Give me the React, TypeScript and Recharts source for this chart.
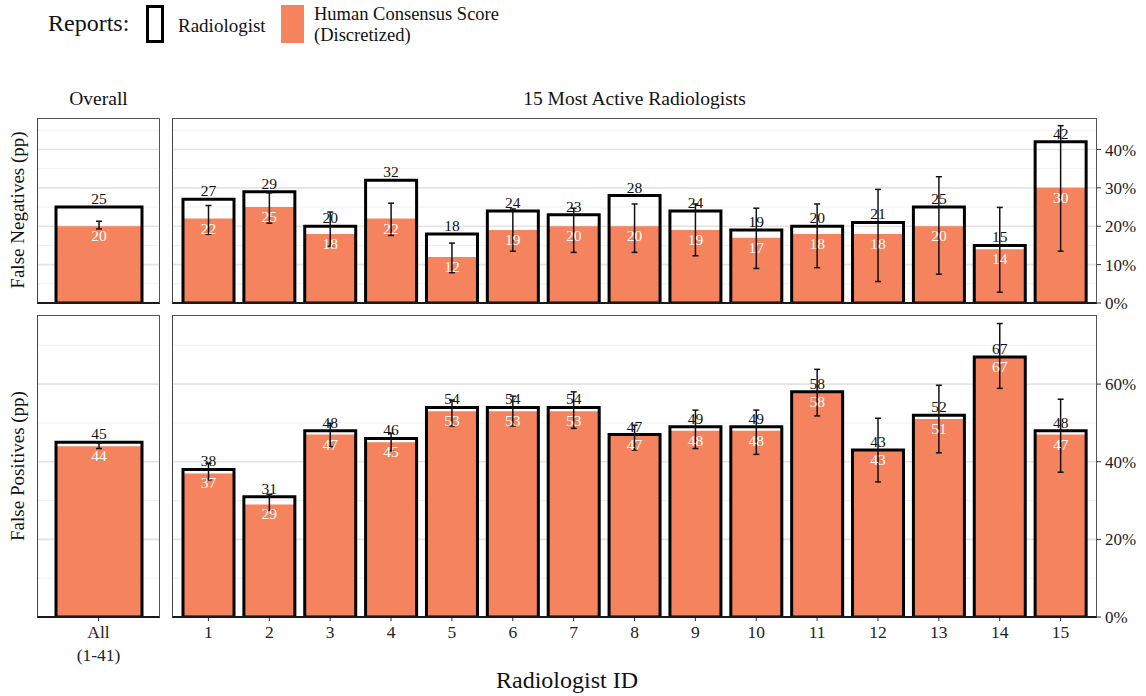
import React from "react";
import { BarChart, Bar, XAxis, YAxis, CartesianGrid, ErrorBar, LabelList } from "recharts";

const ORANGE = "#F4835E";
const FONT = "'Liberation Serif', 'DejaVu Serif', serif";

// categories
const radiologistIds = ["1", "2", "3", "4", "5", "6", "7", "8", "9", "10", "11", "12", "13", "14", "15"];
const overallIds = ["All\n(1-41)"];

// False negatives (pp)
const fnRadiologist = [27, 29, 20, 32, 18, 24, 23, 28, 24, 19, 20, 21, 25, 15, 42];
const fnConsensus = [22, 25, 18, 22, 12, 19, 20, 20, 19, 17, 18, 18, 20, 14, 30];
const fnLow = [17.9, 20.8, 14.8, 17.6, 7.9, 13.5, 13.2, 13.2, 12.3, 9.0, 9.2, 5.6, 7.5, 2.8, 13.5];
const fnHigh = [25.4, 28.7, 23.7, 26.0, 15.6, 24.5, 24.7, 25.8, 25.8, 24.7, 25.8, 29.6, 32.9, 24.9, 46.2];
const fnOverallRadiologist = [25];
const fnOverallConsensus = [20];
const fnOverallLow = [19.3];
const fnOverallHigh = [21.3];

// False positives (pp)
const fpRadiologist = [38, 31, 48, 46, 54, 54, 54, 47, 49, 49, 58, 43, 52, 67, 48];
const fpConsensus = [37, 29, 47, 45, 53, 53, 53, 47, 48, 48, 58, 43, 51, 67, 47];
const fpLow = [35.3, 27.4, 43.9, 42.8, 49.2, 49.2, 48.6, 43.0, 43.4, 41.9, 51.8, 34.8, 42.3, 58.9, 37.3];
const fpHigh = [39.6, 31.6, 49.9, 47.3, 55.9, 56.9, 58.0, 49.4, 53.3, 53.3, 63.8, 51.2, 59.7, 75.6, 56.1];
const fpOverallRadiologist = [45];
const fpOverallConsensus = [44];
const fpOverallLow = [43.4];
const fpOverallHigh = [44.9];

// axis ticks / gridlines
const fnMajorTicks = [0, 10, 20, 30, 40];
const fnMinorTicks = [5, 15, 25, 35, 45];
const fpMajorTicks = [0, 20, 40, 60];
const fpMinorTicks = [10, 30, 50, 70];
const fnDomain: [number, number] = [0, 48.2];
const fpDomain: [number, number] = [0, 77.8];

type Row = { id: string; rad: number; cons: number; err: [number, number] };

function buildRows(ids: string[], rad: number[], cons: number[], low: number[], high: number[]): Row[] {
  return ids.map((id, i) => ({
    id,
    rad: rad[i],
    cons: cons[i],
    err: [cons[i] - low[i], high[i] - cons[i]],
  }));
}

const fnOverallRows = buildRows(overallIds, fnOverallRadiologist, fnOverallConsensus, fnOverallLow, fnOverallHigh);
const fnRows = buildRows(radiologistIds, fnRadiologist, fnConsensus, fnLow, fnHigh);
const fpOverallRows = buildRows(overallIds, fpOverallRadiologist, fpOverallConsensus, fpOverallLow, fpOverallHigh);
const fpRows = buildRows(radiologistIds, fpRadiologist, fpConsensus, fpLow, fpHigh);

function MultiLineTick({ x, y, payload }: any) {
  const lines = String(payload.value).split("\n");
  return (
    <text x={x} y={y} textAnchor="middle" fill="#222" fontSize={17.5} fontFamily={FONT}>
      {lines.map((l, i) => (
        <tspan key={i} x={x} dy={i === 0 ? "0.71em" : "1.3em"}>
          {l}
        </tspan>
      ))}
    </text>
  );
}

interface PanelProps {
  rows: Row[];
  plotWidth: number;
  plotHeight: number;
  domain: [number, number];
  majorTicks: number[];
  minorTicks: number[];
  barSize: number;
  rightAxis: boolean;
  showX: boolean;
  pad: number;
}

function Panel({ rows, plotWidth, plotHeight, domain, majorTicks, minorTicks, barSize, rightAxis, showX, pad }: PanelProps) {
  const axisW = rightAxis ? 50 : 0;
  const xH = showX ? 60 : 0;
  const bottomRoom = showX ? 0 : 10;
  return (
    <BarChart
      width={plotWidth + axisW}
      height={plotHeight + xH + bottomRoom}
      data={rows}
      margin={{ top: 0, right: 0, bottom: bottomRoom, left: 0 }}
    >
      <CartesianGrid vertical={false} stroke="#EEEEEE" strokeWidth={0.9} horizontalValues={minorTicks} />
      <CartesianGrid vertical={false} stroke="#E4E4E4" strokeWidth={1.6} horizontalValues={majorTicks} />
      <XAxis
        dataKey="id"
        padding={{ left: pad, right: pad }}
        hide={!showX}
        height={xH}
        interval={0}
        axisLine={false}
        tickSize={4}
        tickMargin={5}
        tickLine={{ stroke: "#333" }}
        tick={showX ? <MultiLineTick /> : false}
      />
      <XAxis xAxisId="b" dataKey="id" padding={{ left: pad, right: pad }} hide />
      <XAxis xAxisId="c" dataKey="id" padding={{ left: pad, right: pad }} hide />
      <YAxis
        orientation="right"
        domain={domain}
        ticks={majorTicks}
        interval={0}
        allowDataOverflow
        hide={!rightAxis}
        width={axisW}
        axisLine={false}
        tickSize={4}
        tickMargin={4}
        tickLine={{ stroke: "#333" }}
        tick={{ fontSize: 17, fill: "#222", fontFamily: FONT }}
        tickFormatter={(v: number) => `${v}%`}
      />
      <Bar dataKey="cons" fill={ORANGE} barSize={barSize} isAnimationActive={false}>
        <LabelList dataKey="cons" position="insideTop" offset={4} fill="#fff" fontSize={15.5} fontFamily={FONT} />
      </Bar>
      <Bar
        xAxisId="b"
        dataKey="rad"
        fill="none"
        stroke="#000"
        strokeWidth={3}
        barSize={barSize}
        isAnimationActive={false}
      >
        <LabelList dataKey="rad" position="top" offset={3} fill="#111" fontSize={15.5} fontFamily={FONT} />
      </Bar>
      <Bar xAxisId="c" dataKey="cons" fill="none" barSize={barSize} isAnimationActive={false}>
        <ErrorBar dataKey="err" direction="y" width={3} stroke="#111" strokeWidth={1.5} />
      </Bar>
    </BarChart>
  );
}

const abs = (left: number, top: number, extra: React.CSSProperties = {}): React.CSSProperties => ({
  position: "absolute",
  left,
  top,
  ...extra,
});

function Frame({ left, top, width, height }: { left: number; top: number; width: number; height: number }) {
  return (
    <div
      style={abs(left, top, {
        width,
        height: height + 1,
        boxSizing: "border-box",
        borderTop: "1.3px solid #555",
        borderRight: "1.3px solid #555",
        borderLeft: "1.5px solid #444",
        borderBottom: "2.5px solid #1a1a1a",
        pointerEvents: "none",
      })}
    />
  );
}

export default function App() {
  return (
    <div
      style={{
        position: "absolute",
        left: 0,
        top: 0,
        width: 1146,
        height: 696,
        background: "#fff",
        fontFamily: FONT,
        color: "#111",
        overflow: "hidden",
      }}
    >
      {/* legend */}
      <div style={abs(48, 8, { fontSize: 24, lineHeight: "30px" })}>Reports:</div>
      <div
        style={abs(146, 5, {
          width: 18,
          height: 38,
          border: "3px solid #000",
          boxSizing: "border-box",
        })}
      />
      <div style={abs(178, 14, { fontSize: 19, lineHeight: "24px" })}>Radiologist</div>
      <div style={abs(281, 5, { width: 23, height: 38, background: ORANGE })} />
      <div style={abs(314, 4, { fontSize: 18.5, lineHeight: "21px" })}>
        Human Consensus Score
        <br />
        (Discretized)
      </div>

      {/* strip labels */}
      <div style={abs(37, 87, { width: 123, textAlign: "center", fontSize: 19.5, lineHeight: "24px" })}>Overall</div>
      <div style={abs(172, 87, { width: 925, textAlign: "center", fontSize: 19.5, lineHeight: "24px" })}>
        15 Most Active Radiologists
      </div>

      {/* y titles */}
      <div
        style={abs(18 - 110, 210 - 12, {
          width: 220,
          textAlign: "center",
          fontSize: 19,
          lineHeight: "24px",
          transform: "rotate(-90deg)",
        })}
      >
        False Negatives (pp)
      </div>
      <div
        style={abs(18 - 110, 466 - 12, {
          width: 220,
          textAlign: "center",
          fontSize: 19,
          lineHeight: "24px",
          transform: "rotate(-90deg)",
        })}
      >
        False Positives (pp)
      </div>

      {/* panels */}
      <div style={abs(37, 118)}>
        <Panel rows={fnOverallRows} plotWidth={123} plotHeight={185} domain={fnDomain} majorTicks={fnMajorTicks} minorTicks={fnMinorTicks} barSize={86} rightAxis={false} showX={false} pad={0} />
      </div>
      <div style={abs(172, 118)}>
        <Panel rows={fnRows} plotWidth={925} plotHeight={185} domain={fnDomain} majorTicks={fnMajorTicks} minorTicks={fnMinorTicks} barSize={51} rightAxis={true} showX={false} pad={6} />
      </div>
      <div style={abs(37, 315)}>
        <Panel rows={fpOverallRows} plotWidth={123} plotHeight={302} domain={fpDomain} majorTicks={fpMajorTicks} minorTicks={fpMinorTicks} barSize={86} rightAxis={false} showX={true} pad={0} />
      </div>
      <div style={abs(172, 315)}>
        <Panel rows={fpRows} plotWidth={925} plotHeight={302} domain={fpDomain} majorTicks={fpMajorTicks} minorTicks={fpMinorTicks} barSize={51} rightAxis={true} showX={true} pad={6} />
      </div>

      <Frame left={37} top={118} width={123} height={185} />
      <Frame left={172} top={118} width={925} height={185} />
      <Frame left={37} top={315} width={123} height={302} />
      <Frame left={172} top={315} width={925} height={302} />

      <div style={abs(37, 665, { width: 1060, textAlign: "center", fontSize: 24, lineHeight: "30px" })}>
        Radiologist ID
      </div>
    </div>
  );
}
